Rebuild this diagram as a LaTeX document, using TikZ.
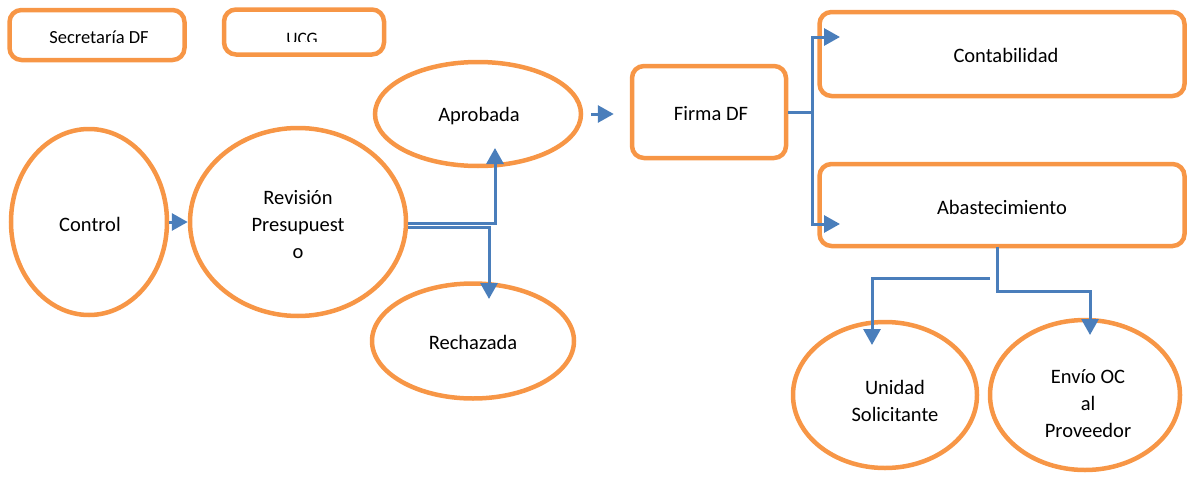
\documentclass[tikz,border=0pt]{standalone}
\usepackage{fontspec}
\setmainfont{Carlito}
\usetikzlibrary{shapes.geometric,arrows.meta}
\definecolor{boxorange}{HTML}{F79646}
\definecolor{linkblue}{HTML}{4A7EBB}
\begin{document}
\begin{tikzpicture}[x=1pt,y=-1pt,
  every node/.style={font=\fontsize{20.5}{27}\selectfont,align=center,text=black},
  oval/.style={ellipse,draw=boxorange,line width=4.5pt,inner sep=0pt},
  rbox/.style={rectangle,rounded corners=12pt,draw=boxorange,line width=4.5pt,inner sep=0pt},
  link/.style={draw=linkblue,line width=3pt},
  arr/.style={link,-{Triangle[length=16pt 0,width=17pt 0]}}]
\useasboundingbox (0,0) rectangle (1188,479);

% header boxes
\node[rbox,minimum width=175pt,minimum height=50pt] (sec) at (97,35) {};
\node[font=\fontsize{18.5}{22}\selectfont] at (99,37) {Secretaría DF};
\node[rbox,minimum width=160pt,minimum height=45pt] (ucg) at (304,32) {};
\begin{scope}
  \clip (226,12) rectangle (382,41);
  \node[font=\fontsize{17.5}{21}\selectfont] at (302,39) {UCG};
\end{scope}

% left part of the flow
\node[oval,minimum width=156pt,minimum height=186pt] (ctl) at (89,222) {};
\node at (90,224) {Control};
\node[oval,minimum width=216pt,minimum height=188pt] (rev) at (298,222) {};
\node at (298,225) {Revisión\\Presupuest\\o};
\node[oval,minimum width=206pt,minimum height=104pt] (apr) at (478,114) {};
\node at (479,116) {Aprobada};
\node[oval,minimum width=202pt,minimum height=115pt] (rec) at (473,341) {};
\node at (473,342) {Rechazada};

% middle and right part
\node[rbox,minimum width=154pt,minimum height=92pt] (fir) at (709,112) {};
\node at (711,114) {Firma DF};
\node[rbox,minimum width=365pt,minimum height=84pt] (con) at (1002,54) {};
\node at (1006,55) {Contabilidad};
\node[rbox,minimum width=365pt,minimum height=82pt] (aba) at (1002,205) {};
\node at (1002,207) {Abastecimiento};
\node[oval,minimum width=184pt,minimum height=146pt] (uni) at (885,395) {};
\node at (895,401) {Unidad\\Solicitante};
\node[oval,minimum width=190pt,minimum height=150pt] (env) at (1085,395) {};
\node at (1088,404) {Envío OC\\al\\Proveedor};

% bend and branch points
\coordinate (revUp) at (495,223);
\coordinate (aprIn) at (495,148);
\coordinate (revDn) at (489,227);
\coordinate (recIn) at (489,299);
\coordinate (firJ) at (812,112);
\coordinate (conIn) at (840,37);
\coordinate (abaIn) at (840,224);
\coordinate (abaOut) at (997,247);
\coordinate (envIn) at (1090,335);
\coordinate (uniFrom) at (990,278);
\coordinate (uniIn) at (872,345);

% connectors
\draw[arr] (ctl.east) -- (rev.west);
\draw[arr] (rev.east |- revUp) -- (revUp) -- (aprIn);
\draw[arr] (rev.east |- revDn) -- (revDn) -- (recIn);
\draw[arr,shorten <=8pt,shorten >=16pt] (apr.east) -- (fir.west |- apr.east);
\draw[link] (fir.east) -- (firJ);
\draw[arr] (firJ) |- (conIn);
\draw[arr] (firJ) |- (abaIn);
\draw[arr] (abaOut) -- (997,291) -| (envIn);
\draw[arr] (uniFrom) -| (uniIn);
\end{tikzpicture}
\end{document}
